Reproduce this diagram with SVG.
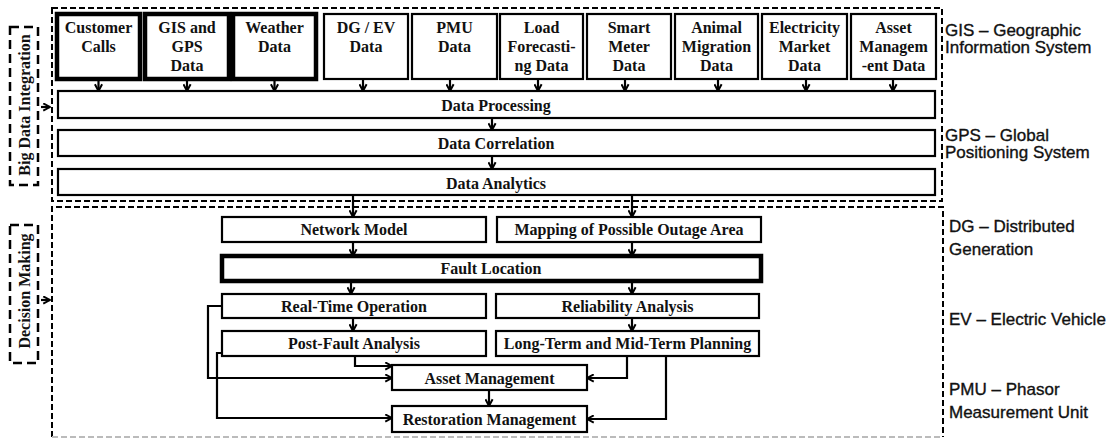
<svg xmlns="http://www.w3.org/2000/svg" width="1112" height="439" viewBox="0 0 1112 439">
<defs>
<marker id="arr" viewBox="0 0 10 10" refX="8.5" refY="5" markerWidth="9" markerHeight="9" markerUnits="userSpaceOnUse" orient="auto">
<path d="M1,1 L8.5,5 L1,9" fill="none" stroke="#000" stroke-width="2.2"/>
</marker>
<style>
.box{fill:#fff;stroke:#000;stroke-width:2.2}
.thick{fill:#fff;stroke:#000;stroke-width:4.5}
.t{font-family:"Liberation Serif","Times New Roman",serif;font-weight:bold;font-size:16px;fill:#111;text-anchor:middle}
.leg{font-family:"Liberation Sans",Arial,sans-serif;font-size:17px;fill:#111;stroke:#111;stroke-width:0.35}
.dash{fill:none;stroke:#000;stroke-width:2;stroke-dasharray:6 3}
.ldash{fill:none;stroke:#000;stroke-width:2.5;stroke-dasharray:9 5}
.c{fill:none;stroke:#000;stroke-width:2.2}
.ca{fill:none;stroke:#000;stroke-width:2.2;marker-end:url(#arr)}
</style>
</defs>

<g id="frames">
<rect class="dash" x="52" y="8" width="890" height="193"/>
<path class="dash" d="M52,437 V207 H943 V437"/>
<path d="M52,437 H943" fill="none" stroke="#bbb" stroke-width="2" stroke-dasharray="6 3"/>
</g>

<g id="label-big-data">
<rect class="ldash" x="10" y="27" width="28" height="158"/>
<text class="t" transform="translate(30,105) rotate(-90)">Big Data Integration</text>
</g>
<g id="label-decision">
<rect class="ldash" x="10" y="225" width="28" height="138"/>
<text class="t" transform="translate(30,291) rotate(-90)">Decision Making</text>
</g>

<g id="n-customer"><rect class="thick" x="57" y="14" width="83" height="65"/><text class="t" x="98.5" y="33">Customer</text><text class="t" x="98.5" y="52">Calls</text></g>
<g id="n-gis"><rect class="thick" x="145" y="14" width="84" height="65"/><text class="t" x="187" y="33">GIS and</text><text class="t" x="187" y="52">GPS</text><text class="t" x="187" y="71">Data</text></g>
<g id="n-weather"><rect class="thick" x="233" y="14" width="83" height="65"/><text class="t" x="274.5" y="33">Weather</text><text class="t" x="274.5" y="52">Data</text></g>
<g id="n-dgev"><rect class="box" x="324" y="14" width="84" height="65"/><text class="t" x="366" y="33">DG / EV</text><text class="t" x="366" y="52">Data</text></g>
<g id="n-pmu"><rect class="box" x="412" y="14" width="85" height="65"/><text class="t" x="454.5" y="33">PMU</text><text class="t" x="454.5" y="52">Data</text></g>
<g id="n-load"><rect class="box" x="500" y="14" width="83" height="65"/><text class="t" x="541.5" y="33">Load</text><text class="t" x="541.5" y="52">Forecasti-</text><text class="t" x="541.5" y="71">ng Data</text></g>
<g id="n-smart"><rect class="box" x="587" y="14" width="84" height="65"/><text class="t" x="629" y="33">Smart</text><text class="t" x="629" y="52">Meter</text><text class="t" x="629" y="71">Data</text></g>
<g id="n-animal"><rect class="box" x="675" y="14" width="83" height="65"/><text class="t" x="716.5" y="33">Animal</text><text class="t" x="716.5" y="52">Migration</text><text class="t" x="716.5" y="71">Data</text></g>
<g id="n-market"><rect class="box" x="762" y="14" width="85" height="65"/><text class="t" x="804.5" y="33">Electricity</text><text class="t" x="804.5" y="52">Market</text><text class="t" x="804.5" y="71">Data</text></g>
<g id="n-assetdata"><rect class="box" x="851" y="14" width="85" height="65"/><text class="t" x="893.5" y="33">Asset</text><text class="t" x="893.5" y="52">Managem</text><text class="t" x="893.5" y="71">-ent Data</text></g>

<g id="n-processing"><rect class="box" x="58" y="91" width="877" height="27"/><text class="t" x="496" y="111">Data Processing</text></g>
<g id="n-correlation"><rect class="box" x="58" y="130" width="877" height="26"/><text class="t" x="496" y="149">Data Correlation</text></g>
<g id="n-analytics"><rect class="box" x="58" y="169" width="877" height="26"/><text class="t" x="496" y="189">Data Analytics</text></g>

<g id="n-network"><rect class="box" x="222" y="217" width="264" height="25"/><text class="t" x="354" y="235">Network Model</text></g>
<g id="n-mapping"><rect class="box" x="497" y="217" width="264" height="25"/><text class="t" x="629" y="235">Mapping of Possible Outage Area</text></g>
<g id="n-fault"><rect class="thick" x="222" y="256" width="539" height="25"/><text class="t" x="491" y="274">Fault Location</text></g>
<g id="n-realtime"><rect class="box" x="222" y="294" width="264" height="24"/><text class="t" x="354" y="312">Real-Time Operation</text></g>
<g id="n-reliability"><rect class="box" x="496" y="294" width="263" height="24"/><text class="t" x="627.5" y="312">Reliability Analysis</text></g>
<g id="n-postfault"><rect class="box" x="222" y="331" width="264" height="25"/><text class="t" x="354" y="349">Post-Fault Analysis</text></g>
<g id="n-longterm"><rect class="box" x="496" y="331" width="263" height="25"/><text class="t" x="627.5" y="349">Long-Term and Mid-Term Planning</text></g>
<g id="n-asset"><rect class="box" x="392" y="365" width="195" height="25"/><text class="t" x="489.5" y="384">Asset Management</text></g>
<g id="n-restoration"><rect class="box" x="392" y="406" width="195" height="26"/><text class="t" x="489.5" y="425">Restoration Management</text></g>

<g id="legend">
<text class="leg" x="945" y="36">GIS – Geographic</text>
<text class="leg" x="945" y="53">Information System</text>
<text class="leg" x="945" y="141">GPS – Global</text>
<text class="leg" x="945" y="158">Positioning System</text>
<text class="leg" x="949" y="232">DG – Distributed</text>
<text class="leg" x="949" y="255">Generation</text>
<text class="leg" x="949" y="325">EV – Electric Vehicle</text>
<text class="leg" x="949" y="395">PMU – Phasor</text>
<text class="leg" x="949" y="418">Measurement Unit</text>
</g>

<g id="connectors">
<line class="ca" x1="41" y1="107" x2="50" y2="107"/>
<line class="ca" x1="41" y1="300" x2="50" y2="300"/>
<line class="ca" x1="98.5" y1="81" x2="98.5" y2="91"/>
<line class="ca" x1="187" y1="81" x2="187" y2="91"/>
<line class="ca" x1="274.5" y1="81" x2="274.5" y2="91"/>
<line class="ca" x1="363" y1="80" x2="363" y2="91"/>
<line class="ca" x1="450" y1="80" x2="450" y2="91"/>
<line class="ca" x1="538" y1="80" x2="538" y2="91"/>
<line class="ca" x1="625" y1="80" x2="625" y2="91"/>
<line class="ca" x1="718" y1="80" x2="718" y2="91"/>
<line class="ca" x1="806" y1="80" x2="806" y2="91"/>
<line class="ca" x1="893" y1="80" x2="893" y2="91"/>
<line class="ca" x1="492" y1="118" x2="492" y2="130"/>
<line class="ca" x1="492" y1="156" x2="492" y2="169"/>
<line class="ca" x1="353" y1="195" x2="353" y2="217"/>
<line class="ca" x1="632" y1="195" x2="632" y2="217"/>
<line class="ca" x1="353" y1="242" x2="353" y2="256"/>
<line class="ca" x1="632" y1="242" x2="632" y2="256"/>
<line class="ca" x1="351" y1="281" x2="351" y2="294"/>
<line class="ca" x1="632" y1="281" x2="632" y2="294"/>
<line class="ca" x1="353" y1="318" x2="353" y2="331"/>
<line class="ca" x1="632" y1="318" x2="632" y2="331"/>
<line class="ca" x1="489" y1="390" x2="489" y2="406"/>
<polyline class="ca" points="355,356 355,366 392,366"/>
<polyline class="ca" points="222,306 208,306 208,378 392,378"/>
<polyline class="ca" points="222,353 217,353 217,418 392,418"/>
<polyline class="ca" points="627,356 627,378 587,378"/>
<polyline class="ca" points="666,356 666,419 587,419"/>
</g>
</svg>
